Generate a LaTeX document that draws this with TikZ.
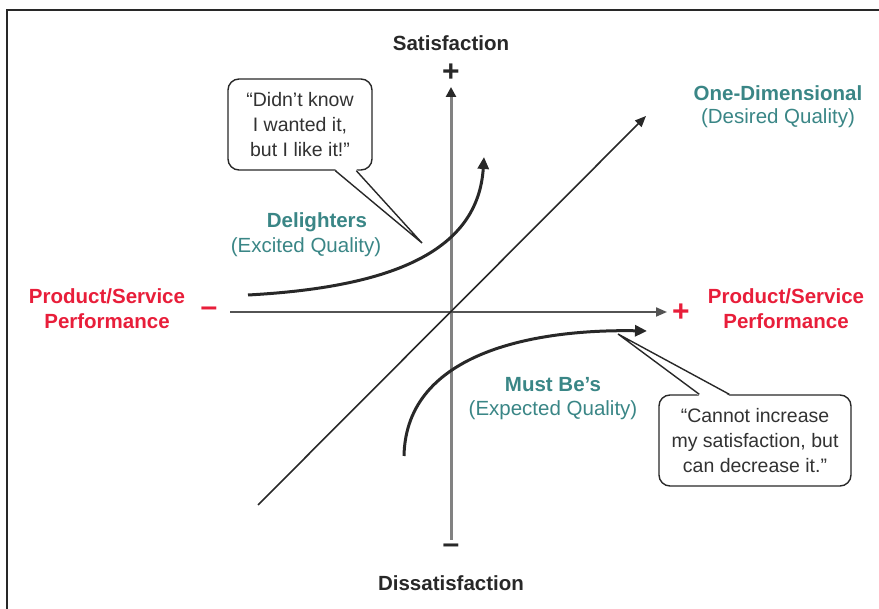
\documentclass[tikz,border=0pt]{standalone}
\usepackage{fontspec}
\setmainfont{Liberation Sans}
\usetikzlibrary{arrows.meta,calc}
\definecolor{kred}{RGB}{232,30,58}
\definecolor{kteal}{RGB}{58,134,134}
\definecolor{kdark}{RGB}{40,40,40}
\definecolor{kgrey}{RGB}{130,130,130}
\definecolor{ktext}{RGB}{50,50,50}
\tikzset{
  lbl/.style={font=\fontsize{20.5}{25}\selectfont\bfseries, text=kdark, inner sep=0pt, align=center},
  redlbl/.style={font=\fontsize{20.5}{25}\selectfont\bfseries, text=kred, inner sep=0pt, align=center},
  tealb/.style={font=\fontsize{20.5}{25}\selectfont\bfseries, text=kteal, inner sep=0pt},
  tealr/.style={font=\fontsize{20.5}{25}\selectfont, text=kteal, inner sep=0pt},
  sgn/.style={font=\fontsize{30}{30}\selectfont\bfseries, inner sep=0pt},
  bubble/.style={rectangle, rounded corners=11pt, draw=kdark, line width=1.4pt, fill=white,
     font=\fontsize{19.5}{25}\selectfont, text=ktext, align=center, inner sep=0pt},
  pointer/.style={draw=kdark, line width=1.4pt, fill=white, line join=miter},
  tip/.style={-{Triangle[length=11pt,width=9pt]}},
  curvy/.style={line width=3pt, kdark, -{Triangle[length=12pt,width=11pt]}},
}
\begin{document}
\begin{tikzpicture}[x=1pt,y=-1pt]
\useasboundingbox (0,0) rectangle (879,609);
% frame
\draw[kdark, line width=2pt] (6.5,609) -- (6.5,10.5) -- (879,10.5);
% axes
\coordinate (vtop) at (451,87);
\coordinate (vbot) at (451,540);
\coordinate (hl) at (230,312);
\coordinate (hr) at (667,312);
\coordinate (dl) at (258,505);
\coordinate (dr) at (646,116);
\draw[kgrey, line width=3pt, -{Triangle[length=10pt,width=10pt,color=kdark]}] (vbot) -- (vtop);
\draw[kdark!80, line width=2pt, tip] (hl) -- (hr);
\draw[kdark, line width=1.6pt, tip] (dl) -- (dr);
% axis labels
\node[lbl] (sat) at (451,43) {Satisfaction};
\node[sgn, text=kdark] (splus) at (451,73) {+};
\node[sgn, text=kdark] (sminus) at (451,549) {–};
\node[lbl] (dis) at (451,583) {Dissatisfaction};
\node[redlbl] (perfl) at (107,309) {Product/Service\\Performance};
\node[redlbl] (perfr) at (786,309) {Product/Service\\Performance};
\node[sgn, text=kred] (pminus) at (209,312) {–};
\node[sgn, text=kred] (pplus) at (681,313) {+};
% one-dimensional
\node[tealb] (od) at (778,93) {One-Dimensional};
\node[tealr] (odq) at (778,118) {(Desired Quality)};
% delighters
\coordinate (ds) at (248,295);
\coordinate (de) at (484,157);
\draw[curvy] (ds) .. controls (395,287) and (478,250) .. (de);
\node[tealb] (del) at (317,222) {Delighters};
\node[tealr] (delq) at (306,247) {(Excited Quality)};
% must be's
\coordinate (ms) at (404,456);
\coordinate (me) at (647,331);
\draw[curvy] (ms) .. controls (406,350) and (540,329) .. (me);
\node[tealb] (mb) at (553,385) {Must Be’s};
\node[tealr] (mbq) at (553,410) {(Expected Quality)};
% callouts
\node[bubble, minimum width=144pt, minimum height=91pt] (c1) at (300,124.5) {“Didn’t know\\I wanted it,\\but I like it!”};
\coordinate (t1) at (422,243);
\fill[white] ($(c1.south west)+(108,-1.5)$) -- (t1) -- ($(c1.south west)+(129,-1.5)$) -- cycle;
\draw[pointer, fill=none] ($(c1.south west)+(108,0)$) -- (t1) -- ($(c1.south west)+(129,0)$);
\node[bubble, minimum width=192pt, minimum height=91pt] (c2) at (755,440.5) {“Cannot increase\\my satisfaction, but\\can decrease it.”};
\coordinate (t2) at (618,334);
\fill[white] ($(c2.north west)+(41,1.5)$) -- (t2) -- ($(c2.north west)+(71,1.5)$) -- cycle;
\draw[pointer, fill=none] ($(c2.north west)+(41,0)$) -- (t2) -- ($(c2.north west)+(71,0)$);
\end{tikzpicture}
\end{document}
